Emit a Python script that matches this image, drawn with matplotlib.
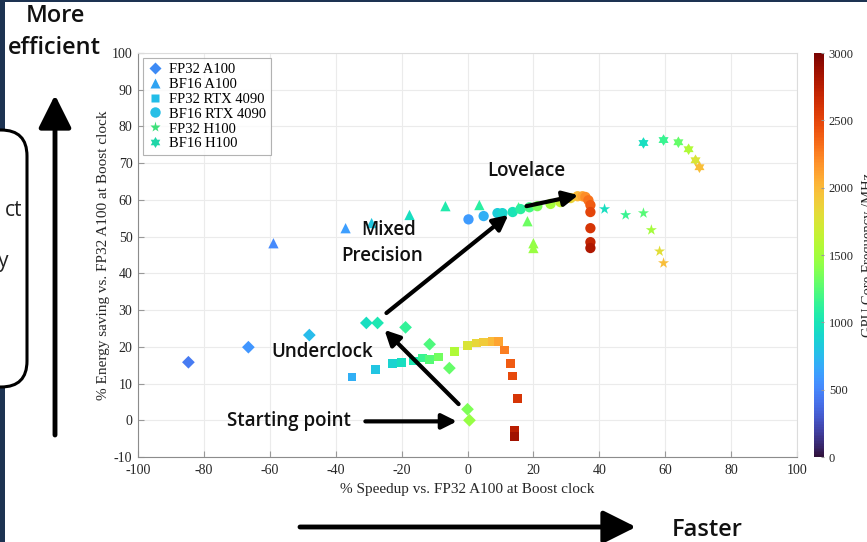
import matplotlib
matplotlib.use("Agg")
import matplotlib.pyplot as plt
from matplotlib.patches import FancyBboxPatch, Rectangle, FancyArrowPatch
from matplotlib.path import Path
from matplotlib.lines import Line2D
import numpy as np

plt.rcParams["axes.unicode_minus"] = False

# ---- measurements: % speedup, % energy saving, core clock (MHz) ----
a100_fp32_speed = [-84.7, -66.5, -48.0, -30.7, -27.3, -18.8, -11.5, -5.5, 0.0, 0.6]
a100_fp32_save = [15.8, 19.9, 23.2, 26.5, 26.5, 25.3, 20.7, 14.2, 3.0, 0.0]
a100_fp32_freq = [450, 580, 760, 950, 1030, 1130, 1230, 1300, 1370, 1450]

a100_bf16_speed = [-58.9, -37.0, -29.1, -17.6, -6.7, 3.6, 15.5, 18.2, 20.0, 20.0]
a100_bf16_save = [48.2, 52.3, 53.7, 55.9, 58.3, 58.6, 58.0, 54.2, 48.2, 46.9]
a100_bf16_freq = [520, 620, 820, 950, 1050, 1100, 1220, 1320, 1430, 1460]

rtx_fp32_speed = [-35.0, -28.0, -22.8, -20.0, -16.4, -13.7, -11.5, -8.8, -3.9, 0.0,
                  2.7, 4.9, 7.6, 9.4, 11.2, 13.0, 13.7, 15.2, 14.3, 14.3]
rtx_fp32_save = [11.8, 13.8, 15.5, 15.8, 16.1, 16.9, 16.6, 17.2, 18.8, 20.4,
                 21.0, 21.3, 21.5, 21.5, 19.1, 15.5, 12.0, 6.0, -2.7, -4.4]
rtx_fp32_freq = [700, 800, 880, 950, 1020, 1150, 1250, 1330, 1550, 1750,
                 1830, 1900, 2000, 2100, 2250, 2400, 2480, 2600, 2750, 2850]

rtx_bf16_speed = [0.3, 4.9, 9.1, 10.6, 13.7, 16.1, 18.8, 21.2, 25.2, 28.2,
                  31.3, 33.4, 34.9, 35.8, 36.7, 37.3, 37.3, 37.3, 37.3, 37.3]
rtx_bf16_save = [54.7, 55.6, 56.4, 56.4, 56.7, 57.5, 58.0, 58.3, 58.9, 59.4,
                 60.5, 61.0, 61.0, 60.8, 59.9, 58.6, 56.7, 52.3, 48.5, 46.9]
rtx_bf16_freq = [600, 700, 850, 900, 1000, 1100, 1200, 1350, 1500, 1650,
                 1850, 2000, 2100, 2200, 2300, 2400, 2500, 2600, 2700, 2800]

h100_fp32_speed = [41.6, 48.0, 53.4, 55.8, 58.3, 59.5]
h100_fp32_save = [57.5, 55.9, 56.4, 51.8, 46.0, 42.8]
h100_fp32_freq = [950, 1150, 1250, 1500, 1800, 1980]

h100_bf16_speed = [53.4, 59.5, 64.0, 67.1, 69.2, 70.4]
h100_bf16_save = [75.5, 76.3, 75.7, 73.8, 70.8, 68.9]
h100_bf16_freq = [950, 1150, 1300, 1550, 1750, 1980]

legend_labels = ["FP32 A100", "BF16 A100", "FP32 RTX 4090",
                 "BF16 RTX 4090", "FP32 H100", "BF16 H100"]
legend_colors = ["#3d8af5", "#2fa3f2", "#22bde8", "#27bfe6", "#3ee07a", "#1fd6a8"]

x_ticks = list(range(-100, 101, 20))
y_ticks = list(range(-10, 101, 10))
cbar_ticks = list(range(0, 3001, 500))

W, H = 867, 542
fig = plt.figure(figsize=(W / 100, H / 100), dpi=100)
fig.patch.set_facecolor("white")

serif = ["Liberation Serif", "DejaVu Serif"]
sans = ["Open Sans", "Lato", "DejaVu Sans"]
navy = "#1d3352"

ax = fig.add_axes([138 / W, 1 - 457 / H, (797 - 138) / W, (457 - 53) / H])
cmap = plt.get_cmap("turbo")
norm = plt.Normalize(0, 3000)

# six-pointed star used for the BF16 H100 runs
hexagram = Path(
    np.array([[np.cos(np.pi / 2 + k * np.pi / 6) * (1.0 if k % 2 == 0 else 0.58),
               np.sin(np.pi / 2 + k * np.pi / 6) * (1.0 if k % 2 == 0 else 0.58)]
              for k in range(12)] + [[0, 1.0]]), closed=True)

series = [
    (a100_fp32_speed, a100_fp32_save, a100_fp32_freq, "D", 42),
    (a100_bf16_speed, a100_bf16_save, a100_bf16_freq, "^", 55),
    (rtx_fp32_speed, rtx_fp32_save, rtx_fp32_freq, "s", 38),
    (rtx_bf16_speed, rtx_bf16_save, rtx_bf16_freq, "o", 55),
    (h100_fp32_speed, h100_fp32_save, h100_fp32_freq, "*", 70),
    (h100_bf16_speed, h100_bf16_save, h100_bf16_freq, hexagram, 70),
]

for xs, ys, fs, mk, size in series:
    ax.scatter(xs, ys, c=fs, cmap=cmap, norm=norm, marker=mk, s=size,
               linewidths=0, zorder=3)

ax.set_xlim(-100, 100)
ax.set_ylim(-10, 100)
ax.set_xticks(x_ticks)
ax.set_yticks(y_ticks)
ax.grid(True, color="#ebebeb", lw=0.8, zorder=0)
ax.set_axisbelow(True)
ax.tick_params(direction="in", length=4, colors="#999999", labelcolor="#262626",
               labelsize=10, top=False, right=False)
ax.tick_params(axis="y", pad=4)
ax.tick_params(axis="x", pad=5)
for lab in ax.get_xticklabels() + ax.get_yticklabels():
    lab.set_family(serif)
for side in ["left", "bottom"]:
    ax.spines[side].set_color("#8c8c8c")
for side in ["top", "right"]:
    ax.spines[side].set_color("#dcdcdc")
ax.set_xlabel("% Speedup vs. FP32 A100 at Boost clock", family=serif, fontsize=11,
              color="#262626", labelpad=4)
ax.set_ylabel("% Energy saving vs. FP32 A100 at Boost clock", family=serif,
              fontsize=11, color="#262626", labelpad=1)

leg_markers = ["D", "^", "s", "o", "*", hexagram]
leg_sizes = [6, 7.5, 6, 7.5, 8, 8]
handles = [Line2D([], [], ls="none", marker=m, markersize=ms, color=c, mec="none")
           for m, ms, c in zip(leg_markers, leg_sizes, legend_colors)]
leg = ax.legend(handles, legend_labels, loc="upper left",
                prop={"family": serif, "size": 10.5},
                frameon=True, fancybox=False, edgecolor="#a0a0a0", borderpad=0.3,
                labelspacing=0.12, handlelength=1.0, handletextpad=0.5,
                borderaxespad=0.35)
leg.get_frame().set_linewidth(0.8)

# annotations on the chart
txt_kw = dict(family=sans, fontsize=13.5, fontweight="semibold", color="#111111",
              ha="center", va="center", zorder=5)
arrow_kw = dict(arrowstyle="-|>,head_length=0.9,head_width=0.45", lw=3, color="black",
                shrinkA=0, shrinkB=0)
ax.text(18, 67.8, "Lovelace", **txt_kw)
ax.text(-24, 51.8, "Mixed", **txt_kw)
ax.text(-26, 44.8, "Precision", **txt_kw)
ax.text(-44, 18.6, "Underclock", **txt_kw)
ax.text(-54.3, -0.2, "Starting point", **txt_kw)
ax.annotate("", xy=(33.6, 61.3), xytext=(17.9, 58.3), arrowprops=arrow_kw, zorder=6)
ax.annotate("", xy=(12.4, 55.9), xytext=(-24.6, 29.2), arrowprops=arrow_kw, zorder=6)
ax.annotate("", xy=(-25.2, 24.6), xytext=(-2.7, 4.4), arrowprops=arrow_kw, zorder=6)
ax.annotate("", xy=(-3.2, -0.3), xytext=(-31, -0.3), arrowprops=arrow_kw, zorder=6)

# colour bar
cax = fig.add_axes([814 / W, 1 - 457 / H, 10 / W, (457 - 53) / H])
cb = fig.colorbar(plt.cm.ScalarMappable(norm=norm, cmap=cmap), cax=cax, ticks=cbar_ticks)
cb.outline.set_visible(False)
cax.tick_params(direction="in", length=2, colors="#999999", labelcolor="#262626",
                labelsize=9)
for lab in cax.get_yticklabels():
    lab.set_family(serif)
cb.set_label("GPU Core Frequency /MHz", family=serif, fontsize=10.5, color="#262626",
             labelpad=6)

# slide decorations around the chart
fig.patches.append(Rectangle((0, 0), 5, H, transform=None, facecolor=navy,
                             edgecolor="none", zorder=0))
fig.patches.append(Rectangle((0, H - 2), W, 2, transform=None, facecolor=navy,
                             edgecolor="none", zorder=0))
box = FancyBboxPatch((-40, H - 387), 67, 257, boxstyle="round,pad=0,rounding_size=26",
                     transform=None, facecolor="white", edgecolor="black", lw=2.2,
                     zorder=1)
fig.patches.append(box)
fig.text(22 / W, 1 - 211 / H, "ct", family=sans, fontsize=15, ha="right", va="center",
         color="#222222")
fig.text(8 / W, 1 - 262 / H, "y", family=sans, fontsize=15, ha="right", va="center",
         color="#222222")

big_kw = dict(family=sans, fontsize=17, fontweight="semibold", color="#111111",
              ha="center", va="center")
fig.text(55 / W, 1 - 16 / H, "More", **big_kw)
fig.text(54 / W, 1 - 48 / H, "efficient", **big_kw)
fig.text(707 / W, 1 - 530 / H, "Faster", **big_kw)

slide_arrow = dict(arrowstyle="-|>,head_length=1.0,head_width=0.5", lw=3.5,
                   color="black", shrinkA=0, shrinkB=0, mutation_scale=20)
fig.add_artist(FancyArrowPatch((55, H - 435), (55, H - 95), transform=None,
                               **slide_arrow))
fig.add_artist(FancyArrowPatch((300, H - 527), (636, H - 527), transform=None,
                               **slide_arrow))

fig.savefig("out.png", dpi=100)
